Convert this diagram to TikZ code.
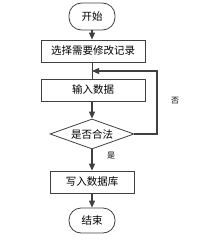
\documentclass[tikz,border=0pt]{standalone}
\usepackage{fontspec}
\setmainfont{Noto Sans CJK SC}
\usetikzlibrary{shapes.geometric,arrows.meta}
\begin{document}
\begin{tikzpicture}[x=1pt,y=-1pt,
  base/.style={draw=black!75, line width=0.8pt, inner sep=0pt, font=\fontsize{10.5}{12}\selectfont},
  termbox/.style={base, rectangle, minimum width=46pt},
  proc/.style={base, rectangle, minimum height=22pt},
  arr/.style={draw=black!75, line width=1.2pt, -{Triangle[length=7pt,width=6pt]}},
  lbl/.style={font=\fontsize{8}{9}\selectfont}]
\useasboundingbox (0,0) rectangle (223,243);
\node[termbox, rounded corners=12.5pt, minimum height=27pt] (start) at (92,16.5) {开始};
\node[proc, minimum width=104pt] (sel) at (93,51) {选择需要修改记录};
\node[proc, minimum width=104pt] (inp) at (93,90) {输入数据};
\node[base, diamond, minimum width=84pt, minimum height=30pt] (chk) at (92,134) {};
\node[base, draw=none] (chktext) at (chk) {是否合法};
\node[proc, minimum width=84pt] (wr) at (92,182) {写入数据库};
\node[termbox, rounded corners=12pt, minimum height=25pt] (end) at (92,220.5) {结束};
\coordinate (m) at (92,71);
\coordinate (r) at (157,71);
\draw[arr] (start.south -| 92,0) -- (sel.north -| 92,0);
\draw[draw=black!75, line width=1pt] (sel.south -| 92,0) -- (inp.north -| 92,0);
\draw[arr] (inp.south -| 92,0) -- (chk.north);
\draw[arr] (chk.south) -- (wr.north);
\draw[arr] (wr.south) -- (end.north);
\draw[arr] (chk.east) -- (chk.east -| r) -- (r) -- (m);
\node[lbl] (no) at (175,101) {否};
\node[lbl] (yes) at (111,156) {是};
\end{tikzpicture}
\end{document}
